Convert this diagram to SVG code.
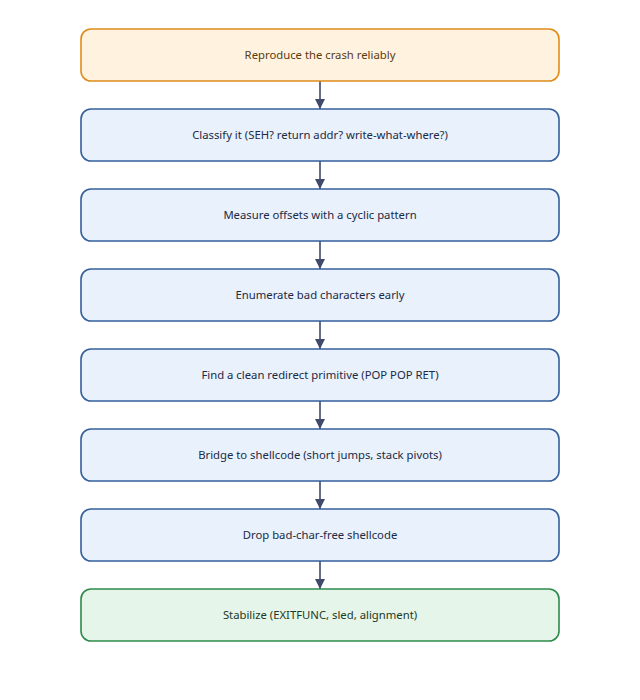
<svg xmlns="http://www.w3.org/2000/svg" width="640" height="700" viewBox="0 0 640 700">
<style>
.box{stroke-width:1.6}
.start{fill:#fff3e0;stroke:#e08c1a}
.step{fill:#e8f1fc;stroke:#34609c}
.end{fill:#e6f5e9;stroke:#2e8a4c}
text{font-family:"Noto Sans","Open Sans","Liberation Sans",sans-serif;font-size:11.3px;text-anchor:middle;dominant-baseline:central}
.tstart{fill:#5a3a10}
.tstep{fill:#1c2a44}
.tend{fill:#1b3a26}
.conn{stroke:#3f4a6b;stroke-width:1.6;fill:none}
</style>
<defs>
<marker id="arr" viewBox="0 0 10 10" refX="10" refY="5" markerWidth="10" markerHeight="10" markerUnits="userSpaceOnUse" orient="auto">
<path d="M0,0 L10,5 L0,10 z" fill="#3f4a6b"/>
</marker>
</defs>
<rect width="640" height="700" fill="#ffffff"/>
<g id="connectors">
<line class="conn" x1="320" y1="81" x2="320" y2="109" marker-end="url(#arr)"/>
<line class="conn" x1="320" y1="161" x2="320" y2="189" marker-end="url(#arr)"/>
<line class="conn" x1="320" y1="241" x2="320" y2="269" marker-end="url(#arr)"/>
<line class="conn" x1="320" y1="321" x2="320" y2="349" marker-end="url(#arr)"/>
<line class="conn" x1="320" y1="401" x2="320" y2="429" marker-end="url(#arr)"/>
<line class="conn" x1="320" y1="481" x2="320" y2="509" marker-end="url(#arr)"/>
<line class="conn" x1="320" y1="561" x2="320" y2="589" marker-end="url(#arr)"/>
</g>
<g id="n1"><rect class="box start" x="81" y="29" width="478" height="52" rx="10"/><text class="tstart" x="320" y="54">Reproduce the crash reliably</text></g>
<g id="n2"><rect class="box step" x="81" y="109" width="478" height="52" rx="10"/><text class="tstep" x="320" y="134">Classify it (SEH? return addr? write-what-where?)</text></g>
<g id="n3"><rect class="box step" x="81" y="189" width="478" height="52" rx="10"/><text class="tstep" x="320" y="214">Measure offsets with a cyclic pattern</text></g>
<g id="n4"><rect class="box step" x="81" y="269" width="478" height="52" rx="10"/><text class="tstep" x="320" y="294">Enumerate bad characters early</text></g>
<g id="n5"><rect class="box step" x="81" y="349" width="478" height="52" rx="10"/><text class="tstep" x="320" y="374">Find a clean redirect primitive (POP POP RET)</text></g>
<g id="n6"><rect class="box step" x="81" y="429" width="478" height="52" rx="10"/><text class="tstep" x="320" y="454">Bridge to shellcode (short jumps, stack pivots)</text></g>
<g id="n7"><rect class="box step" x="81" y="509" width="478" height="52" rx="10"/><text class="tstep" x="320" y="534">Drop bad-char-free shellcode</text></g>
<g id="n8"><rect class="box end" x="81" y="589" width="478" height="52" rx="10"/><text class="tend" x="320" y="614">Stabilize (EXITFUNC, sled, alignment)</text></g>
</svg>
